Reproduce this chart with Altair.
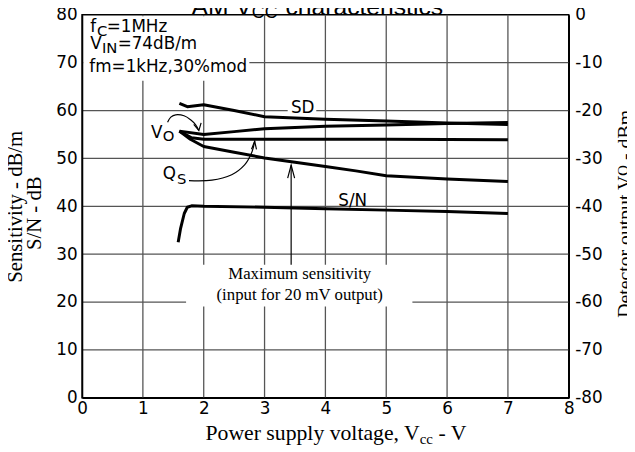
import altair as alt
import pandas as pd

# ---------------- data ----------------
x_ticks = [0, 1, 2, 3, 4, 5, 6, 7, 8]
left_ticks = [0, 10, 20, 30, 40, 50, 60, 70, 80]
right_ticks = [-80, -70, -60, -50, -40, -30, -20, -10, 0]
grid_x = [1, 2, 3, 4, 5, 6, 7]
grid_y = [10, 20, 30, 40, 50, 60, 70]

# SD (left axis, dB)
sd_x = [1.60, 1.73, 2.00, 2.50, 3.00, 4.00, 5.00, 6.00, 7.00]
sd_y = [61.5, 60.8, 61.2, 60.0, 58.7, 58.2, 57.8, 57.4, 57.1]
# Qs (left axis)
qs_x = [1.60, 1.80, 2.00, 3.00, 4.00, 5.00, 6.00, 7.00]
qs_y = [55.7, 54.3, 54.0, 54.0, 54.0, 54.0, 53.95, 53.9]
# Maximum sensitivity (left axis, dB/m)
ms_x = [1.60, 1.78, 2.00, 2.50, 3.00, 3.50, 4.00, 4.50, 5.00, 6.00, 7.00]
ms_y = [55.7, 54.0, 52.5, 51.3, 50.1, 49.2, 48.3, 47.4, 46.4, 45.7, 45.2]
# S/N (left axis, dB)
sn_x = [1.58, 1.62, 1.68, 1.73, 1.80, 2.00, 3.00, 4.00, 5.00, 6.00, 7.00]
sn_y = [32.5, 35.4, 38.5, 39.8, 40.1, 40.0, 39.8, 39.5, 39.2, 38.9, 38.5]
# Vo (right axis, dBm)
vo_x = [1.60, 2.00, 2.50, 3.00, 4.00, 5.00, 6.00, 7.00]
vo_dbm = [-24.3, -25.0, -24.4, -23.8, -23.3, -23.0, -22.7, -22.5]

# annotation arrows (data coordinates)
vo_arc_x = [1.406, 1.459, 1.540, 1.677, 1.784, 1.865, 1.920]
vo_arc_y = [57.53, 58.62, 59.11, 58.91, 58.08, 57.05, 55.81]
qs_arc_x = [1.758, 2.135, 2.460, 2.672, 2.786, 2.838]
qs_arc_y = [45.36, 45.46, 46.60, 48.66, 51.13, 53.61]
head_vo_x = [1.836, 1.920, 1.957]
head_vo_y = [57.11, 55.81, 57.42]
head_qs_x = [2.786, 2.838, 2.867]
head_qs_y = [51.9, 53.61, 51.9]
ms_shaft_x = [3.437, 3.437]
ms_shaft_y = [27.8, 48.6]
head_ms_x = [3.380, 3.437, 3.494]
head_ms_y = [45.9, 48.6, 45.9]

# white label boxes
box_x1 = [0.02, 3.38, 1.71]
box_x2 = [2.75, 3.85, 5.43]
box_y1 = [66.2, 59.0, 19.1]
box_y2 = [79.7, 62.7, 27.8]

# in-plot sans text pieces
sans_text = ["f", "C", "=1MHz", "V", "IN", "=74dB/m", "fm=1kHz,30%mod",
             "V", "O", "Q", "S", "SD", "S/N"]
sans_x = [0.133, 0.245, 0.405, 0.133, 0.328, 0.585, 0.120,
          1.133, 1.326, 1.326, 1.560, 3.433, 4.211]
sans_y = [76.3, 75.6, 76.3, 72.85, 71.96, 72.85, 68.04,
          54.29, 53.71, 45.71, 44.74, 59.59, 40.1]
sans_size = [17, 15, 17, 17, 15, 17, 17, 17, 15, 17, 15, 17, 17]

serif_text = ["Maximum sensitivity", "(input for 20 mV output)"]
serif_x = [3.578, 3.578]
serif_y = [24.74, 20.41]

# ---------------- chart ----------------
W, H = 493, 388
SANS = "DejaVu Sans"
SERIF = "Liberation Serif"
HELV = "Liberation Sans"

xscale = alt.Scale(domain=[0, 8], nice=False, zero=False)
yscale = alt.Scale(domain=[0, 80], nice=False)
rscale = alt.Scale(domain=[-80, 0], nice=False)

common_axis = dict(title=None, ticks=False, grid=False, domainColor="black",
                   domainWidth=1.5, labelFont=SANS, labelFontSize=17,
                   labelColor="black", labelOverlap=False, zindex=1)
x_axis = alt.Axis(values=x_ticks, labelPadding=3, labelFlush=False, **common_axis)
y_axis = alt.Axis(values=left_ticks, labelPadding=5, labelFlush=False, **common_axis)
r_axis = alt.Axis(values=right_ticks, orient="right", labelPadding=6, labelFlush=False,
                  labelExpr="datum.value == 0 ? '0' : '-' + abs(datum.value)",
                  **common_axis)

XN = alt.X("x:Q", scale=xscale, axis=x_axis)
YN = alt.Y("y:Q", scale=yscale, axis=y_axis)

vgrid = alt.Chart(pd.DataFrame({"x": grid_x})).mark_rule(
    color="#555555", strokeWidth=1.3).encode(x=XN)
hgrid = alt.Chart(pd.DataFrame({"y": grid_y})).mark_rule(
    color="#555555", strokeWidth=1.3).encode(y=YN)

boxes = alt.Chart(pd.DataFrame({"x": box_x1, "x2": box_x2, "y": box_y1, "y2": box_y2})).mark_rect(
    color="white").encode(x=XN, x2="x2:Q", y=YN, y2="y2:Q")

frames = []
for name, xs, ys in [("SD", sd_x, sd_y), ("Qs", qs_x, qs_y), ("MS", ms_x, ms_y), ("SN", sn_x, sn_y)]:
    frames.append(pd.DataFrame({"series": name, "x": xs, "y": ys, "i": list(range(len(xs)))}))
curves = pd.concat(frames, ignore_index=True)

lines = alt.Chart(curves).mark_line(color="black", strokeWidth=3, strokeJoin="round").encode(
    x=XN, y=YN, detail="series:N", order="i:Q")

arc_frames = []
for name, xs, ys in [("vo", vo_arc_x, vo_arc_y), ("qs", qs_arc_x, qs_arc_y)]:
    arc_frames.append(pd.DataFrame({"g": name, "x": xs, "y": ys, "i": list(range(len(xs)))}))
arcs = alt.Chart(pd.concat(arc_frames, ignore_index=True)).mark_line(
    color="black", strokeWidth=1.2, interpolate="cardinal").encode(
    x=XN, y=YN, detail="g:N", order="i:Q")

st_frames = []
for name, xs, ys in [("hv", head_vo_x, head_vo_y), ("hq", head_qs_x, head_qs_y),
                     ("ms", ms_shaft_x, ms_shaft_y), ("hm", head_ms_x, head_ms_y)]:
    st_frames.append(pd.DataFrame({"g": name, "x": xs, "y": ys, "i": list(range(len(xs)))}))
straights = alt.Chart(pd.concat(st_frames, ignore_index=True)).mark_line(
    color="black", strokeWidth=1.2).encode(x=XN, y=YN, detail="g:N", order="i:Q")

sans_layer = alt.Chart(pd.DataFrame({"t": sans_text, "x": sans_x, "y": sans_y, "s": sans_size})).mark_text(
    align="left", baseline="alphabetic", font=SANS, color="black").encode(
    x=XN, y=YN, text="t:N", size=alt.Size("s:Q", scale=None))

serif_layer = alt.Chart(pd.DataFrame({"t": serif_text, "x": serif_x, "y": serif_y})).mark_text(
    align="center", baseline="alphabetic", font=SERIF, fontSize=17, color="black").encode(
    x=XN, y=YN, text="t:N")


def ptext(txt, px, py, size, font, align="left", angle=0):
    kw = dict(align=align, baseline="alphabetic", font=font, fontSize=size, color="black")
    if angle:
        kw["angle"] = angle
    return alt.Chart(pd.DataFrame({"t": [txt]})).mark_text(**kw).encode(
        x=alt.value(px), y=alt.value(py), text="t:N")


titles = [
    ptext("AM V", 172, 0, 25, HELV, "right"),
    ptext("CC", 172, 3, 18, HELV, "left"),
    ptext("characteristics", 206, 0, 25, HELV, "left"),
    ptext("Power supply voltage, V", 342, 431, 22, SERIF, "right"),
    ptext("cc", 342, 435, 15, SERIF, "left"),
    ptext("- V", 361, 431, 22, SERIF, "left"),
    ptext("Sensitivity - dB/m", -61.3, 194.5, 21, SERIF, "center", 270),
    ptext("S/N - dB", -42, 201, 21, SERIF, "center", 270),
    ptext("Detector output V", 556, 163, 20, SERIF, "right", 270),
    ptext("O", 553, 163, 15, SERIF, "left", 270),
    ptext("- dBm", 556, 147, 20, SERIF, "left", 270),
]

left_group = alt.layer(vgrid, hgrid, boxes, lines, arcs, straights, sans_layer, serif_layer, *titles)

vo_df = pd.DataFrame({"x": vo_x, "dbm": vo_dbm, "i": list(range(len(vo_x)))})
vo_layer = alt.Chart(vo_df).mark_line(color="black", strokeWidth=3, strokeJoin="round").encode(
    x=XN, y=alt.Y("dbm:Q", scale=rscale, axis=r_axis), order="i:Q")

chart = alt.layer(left_group, vo_layer).resolve_scale(y="independent").properties(
    width=W, height=H,
    padding={"left": 75, "top": 4, "right": 59, "bottom": 52},
    autosize=alt.AutoSizeParams(type="none"),
).configure_view(stroke="black", strokeWidth=1.5)

chart.save("out.html", embed_options={"renderer": "svg", "actions": False})
